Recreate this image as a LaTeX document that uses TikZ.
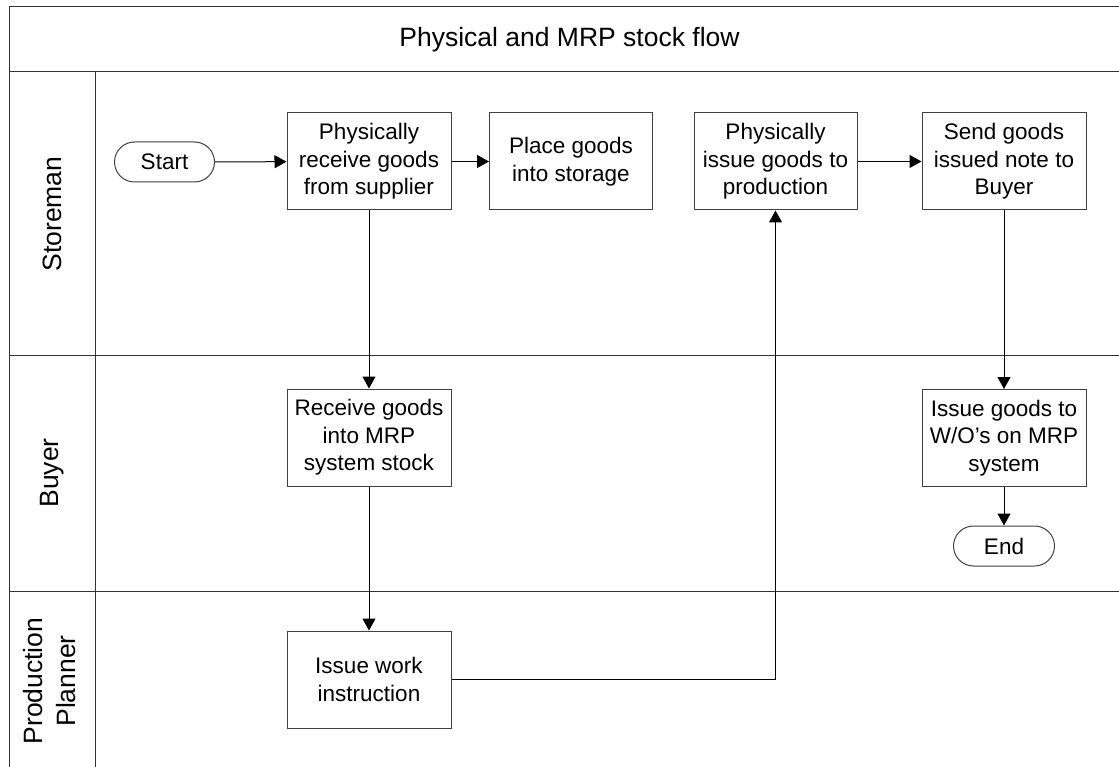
\documentclass[tikz,border=0pt]{standalone}
\usepackage{fontspec}
\setmainfont{Liberation Sans}
\usetikzlibrary{arrows.meta}
\begin{document}
\begin{tikzpicture}[x=1pt,y=-1pt,
  frame/.style={draw=black!80,line width=1pt},
  proc/.style={draw=black!75,line width=1pt,rectangle,inner sep=0pt,
    minimum width=164pt,minimum height=97pt,align=center,
    font=\fontsize{22.5}{27.5}\selectfont},
  term/.style={draw=black!75,line width=1pt,rectangle,rounded corners=20pt,
    inner sep=0pt,minimum width=100pt,minimum height=40pt,
    font=\fontsize{22.5}{27.5}\selectfont},
  lane/.style={rotate=90,align=center,font=\fontsize{26.5}{33}\selectfont},
  flow/.style={draw=black,line width=1pt,-{Triangle[length=12pt,width=13pt]}}]
\useasboundingbox (0,0) rectangle (1119,767);
\clip (0,0) rectangle (1119,767);
\fill[white] (0,0) rectangle (1119,767);

% pool frame and swimlanes
\draw[frame] (1130,7) -- (9,7) -- (9,780);
\draw[frame] (9,72) -- (1130,72);
\draw[frame] (95,72) -- (95,780);
\draw[frame] (9,355.5) -- (1130,355.5);
\draw[frame] (9,591) -- (1130,591);

\node[font=\fontsize{26.5}{33}\selectfont] (title) at (569.5,40) {Physical and MRP stock flow};
\node[lane] (lstore) at (52,214) {Storeman};
\node[lane] (lbuyer) at (52,473) {Buyer};
\node[lane] (lplan) at (50,681) {Production\\Planner};

% process steps
\node[term] (start) at (164.5,162) {Start};
\node[proc] (recv) at (369,161.5) {Physically\\receive goods\\from supplier};
\node[proc,minimum width=163pt] (place) at (571,161.5) {Place goods\\into storage};
\node[proc,minimum width=163pt] (issue) at (775.5,161.5) {Physically\\issue goods to\\production};
\node[proc] (send) at (1004,161.5) {Send goods\\issued note to\\Buyer};
\node[proc] (mrp) at (369,437.5) {Receive goods\\into MRP\\system stock};
\node[proc] (wo) at (1004,438) {Issue goods to\\W/O’s on MRP\\system};
\node[term,minimum width=101pt] (end) at (1004,546) {End};
\node[proc] (work) at (369,679.5) {Issue work\\instruction};

% connectors
\draw[flow] (start) -- (recv);
\draw[flow] (recv) -- (place);
\draw[flow] (issue) -- (send);
\draw[flow] (recv) -- (mrp);
\draw[flow] (mrp) -- (work);
\draw[flow] (work.east) -| (issue.south);
\draw[flow] (send) -- (wo);
\draw[flow] (wo) -- (end);
\end{tikzpicture}
\end{document}
